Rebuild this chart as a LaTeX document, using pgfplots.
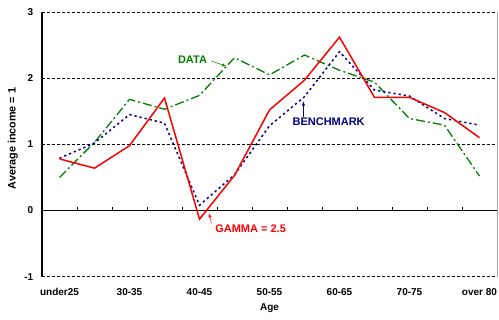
\documentclass[border=0pt]{standalone}
\usepackage{pgfplots}
\pgfplotsset{compat=1.18}
\usepackage{fontspec}
\setmainfont{Liberation Sans}
\definecolor{dgreen}{RGB}{0,128,0}
\definecolor{navyb}{RGB}{0,0,128}
\definecolor{pred}{RGB}{255,0,0}
\begin{document}
\begin{tikzpicture}[x=1pt,y=1pt]
\useasboundingbox (-42,-43.3) rectangle (457,276.7);
\begin{axis}[
  at={(0,0)}, anchor=south west,
  scale only axis, width=455pt, height=264.7pt,
  xmin=-0.5, xmax=12.5, ymin=-1, ymax=3,
  xtick={0,2,4,6,8,10,12},
  xticklabels={under25,30-35,40-45,50-55,60-65,70-75,over 80},
  ytick={-1,0,1,2,3},
  major tick length=0pt,
  axis x line*=bottom, axis y line*=left,
  x axis line style={draw=none},
  y axis line style={black, line width=1.3pt},
  ymajorgrids,
  grid style={black, line width=0.6pt, dash pattern=on 3pt off 2pt},
  /pgf/number format/assume math mode=true,
  ticklabel style={font=\bfseries\fontsize{10}{12}\selectfont},
  xticklabel style={anchor=base, yshift=-18.6pt, inner sep=0pt},
  yticklabel style={anchor=east, inner sep=0pt, xshift=-8.5pt},
  xlabel={Age},
  ylabel={Average income = 1},
  every axis x label/.style={at={(axis description cs:0.5,0)}, anchor=center, yshift=-31.6pt, font=\bfseries\fontsize{10}{12}\selectfont},
  every axis y label/.style={at={(axis description cs:-0.064,0.522)}, anchor=center, rotate=90, font=\bfseries\fontsize{10.8}{12}\selectfont},
  clip=false,
]
\draw[gray!70, line width=0.8pt] (axis cs:12.5,-1) -- (axis cs:12.5,3);
\draw[black, line width=0.9pt] (axis cs:-0.5,0) -- (axis cs:12.5,0);
\pgfplotsinvokeforeach{0.5,1.5,2.5,3.5,4.5,5.5,6.5,7.5,8.5,9.5,10.5,11.5}{
  \draw[black, line width=0.7pt] (axis cs:#1,0) -- (axis cs:#1,0.048);
}
% DATA
\addplot[dgreen, line width=1.3pt, dash pattern=on 9pt off 3pt on 2pt off 3pt] coordinates {
 (0,0.50) (1,1.03) (2,1.68) (3,1.53) (4,1.74) (5,2.31) (6,2.05) (7,2.35) (8,2.12) (9,1.94) (10,1.39) (11,1.29) (12,0.52)};
% BENCHMARK
\addplot[navyb, line width=1.5pt, dash pattern=on 2.2pt off 3pt] coordinates {
 (0,0.79) (1,1.02) (2,1.45) (3,1.32) (4,0.08) (5,0.54) (6,1.28) (7,1.72) (8,2.40) (9,1.82) (10,1.73) (11,1.39) (12,1.29)};
% GAMMA = 2.5
\addplot[pred, line width=1.5pt] coordinates {
 (0,0.78) (1,0.64) (2,0.98) (3,1.70) (4,-0.13) (5,0.53) (6,1.52) (7,1.97) (8,2.62) (9,1.71) (10,1.71) (11,1.48) (12,1.10)};
% annotations
\node[text=dgreen, font=\bfseries\fontsize{11}{13}\selectfont] at (axis cs:3.8,2.28) {DATA};
\draw[dgreen, line width=0.5pt, -latex] (axis cs:4.34,2.26) -- (axis cs:4.77,2.18);
\node[text=navyb, font=\bfseries\fontsize{11}{13}\selectfont] at (axis cs:7.69,1.34) {BENCHMARK};
\draw[navyb, line width=0.5pt, -latex] (axis cs:6.97,1.42) -- (axis cs:6.97,1.65);
\node[text=pred, font=\bfseries\fontsize{11}{13}\selectfont] at (axis cs:5.46,-0.28) {GAMMA = 2.5};
\draw[pred, line width=0.5pt, -latex] (axis cs:4.34,-0.19) -- (axis cs:4.27,-0.04);
\end{axis}
\end{tikzpicture}
\end{document}
